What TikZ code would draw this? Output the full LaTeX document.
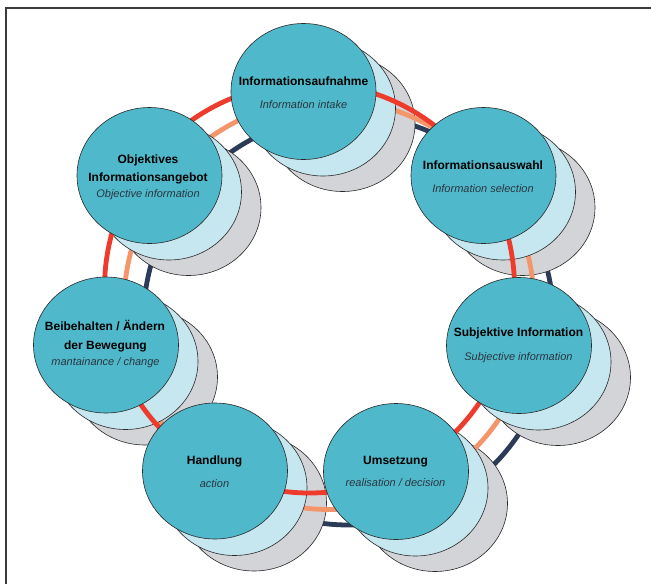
\documentclass[tikz,border=0pt]{standalone}
\usepackage{fontspec}
\setmainfont{Liberation Sans}
\usetikzlibrary{shapes.geometric,calc}

\definecolor{discfront}{HTML}{4FB9CB}
\definecolor{discmid}{HTML}{C6E6F0}
\definecolor{discback}{HTML}{D2D4D7}
\definecolor{ringred}{HTML}{EE3B2B}
\definecolor{ringorange}{HTML}{F4956A}
\definecolor{ringnavy}{HTML}{2C3B57}
\definecolor{outline}{HTML}{2A2A2A}
\definecolor{subtext}{HTML}{2B3440}
\definecolor{framegray}{HTML}{3A3A3A}

\begin{document}
\begin{tikzpicture}[x=1pt,y=-1pt,
  disc/.style={ellipse, draw=outline, line width=0.6pt,
    minimum width=145pt, minimum height=136pt, inner sep=0pt},
  frontdisc/.style={disc, fill=discfront},
  middisc/.style={disc, fill=discmid},
  backdisc/.style={disc, fill=discback},
  ring/.style={line width=4.8pt},
  title/.style={font=\bfseries\fontsize{12}{14}\selectfont, text=black,
    anchor=base, inner sep=0pt},
  sub/.style={font=\itshape\fontsize{11}{13}\selectfont, text=subtext,
    anchor=base, inner sep=0pt},
  frameline/.style={draw=framegray, line width=1.2pt}
]
\useasboundingbox (0,0) rectangle (651,584);
\fill[white] (0,0) rectangle (651,584);

% page frame (left and top edges)
\coordinate (frameBL) at (6,584);
\coordinate (frameTL) at (6,8);
\coordinate (frameTR) at (651,8);
\draw[frameline] (frameBL) -- (frameTL) -- (frameTR);

% centres of the front discs
\coordinate (p1) at (303.5,91.5);
\coordinate (p2) at (149.5,175.5);
\coordinate (p3) at (483.5,175.5);
\coordinate (p4) at (519,345.5);
\coordinate (p5) at (396,471.5);
\coordinate (p6) at (215,471);
\coordinate (p7) at (106,345);

% centres of the three rings (one per layer)
\coordinate (ringA) at (309.5,288);
\coordinate (ringB) at ($(ringA)+(19.5,16.5)$);
\coordinate (ringC) at ($(ringA)+(39,32)$);

% back layer
\draw[ring, ringnavy] (ringC) circle[radius=205];
\foreach \i in {1,...,7}
  \node[backdisc] (b\i) at ($(p\i)+(39,32)$) {};

% middle layer
\draw[ring, ringorange] (ringB) circle[radius=205];
\foreach \i in {1,...,7}
  \node[middisc] (m\i) at ($(p\i)+(19.5,16.5)$) {};

% front layer
\draw[ring, ringred] (ringA) circle[radius=205];
\foreach \i in {1,...,7}
  \node[frontdisc] (f\i) at (p\i) {};

% labels
\node[title] (t1) at ($(f1)+(0,-6.5)$) {Informationsaufnahme};
\node[sub]   (s1) at ($(f1)+(0,16.8)$) {Information intake};

\node[title] (t2a) at ($(f2)+(-1.5,-12.5)$) {Objektives};
\node[title] (t2b) at ($(f2)+(-1.5,5.5)$) {Informationsangebot};
\node[sub]   (s2)  at ($(f2)+(-1.5,21.5)$) {Objective information};

\node[title] (t3) at ($(f3)+(-0.5,-6.5)$) {Informationsauswahl};
\node[sub]   (s3) at ($(f3)+(-0.5,16.8)$) {Information selection};

\node[title] (t4) at ($(f4)+(-0.5,-9.5)$) {Subjektive Information};
\node[sub]   (s4) at ($(f4)+(-0.5,15.2)$) {Subjective information};

\node[title] (t5) at ($(f5)+(-0.5,-7.5)$) {Umsetzung};
\node[sub]   (s5) at ($(f5)+(-0.5,15.2)$) {realisation / decision};

\node[title] (t6) at ($(f6)+(-0.5,-7)$) {Handlung};
\node[sub]   (s6) at ($(f6)+(-0.5,16)$) {action};

\node[title] (t7a) at ($(f7)+(-1,-14.3)$) {Beibehalten / Ändern};
\node[title] (t7b) at ($(f7)+(-0.5,4)$) {der Bewegung};
\node[sub]   (s7)  at ($(f7)+(-0.5,20)$) {mantainance / change};
\end{tikzpicture}
\end{document}
